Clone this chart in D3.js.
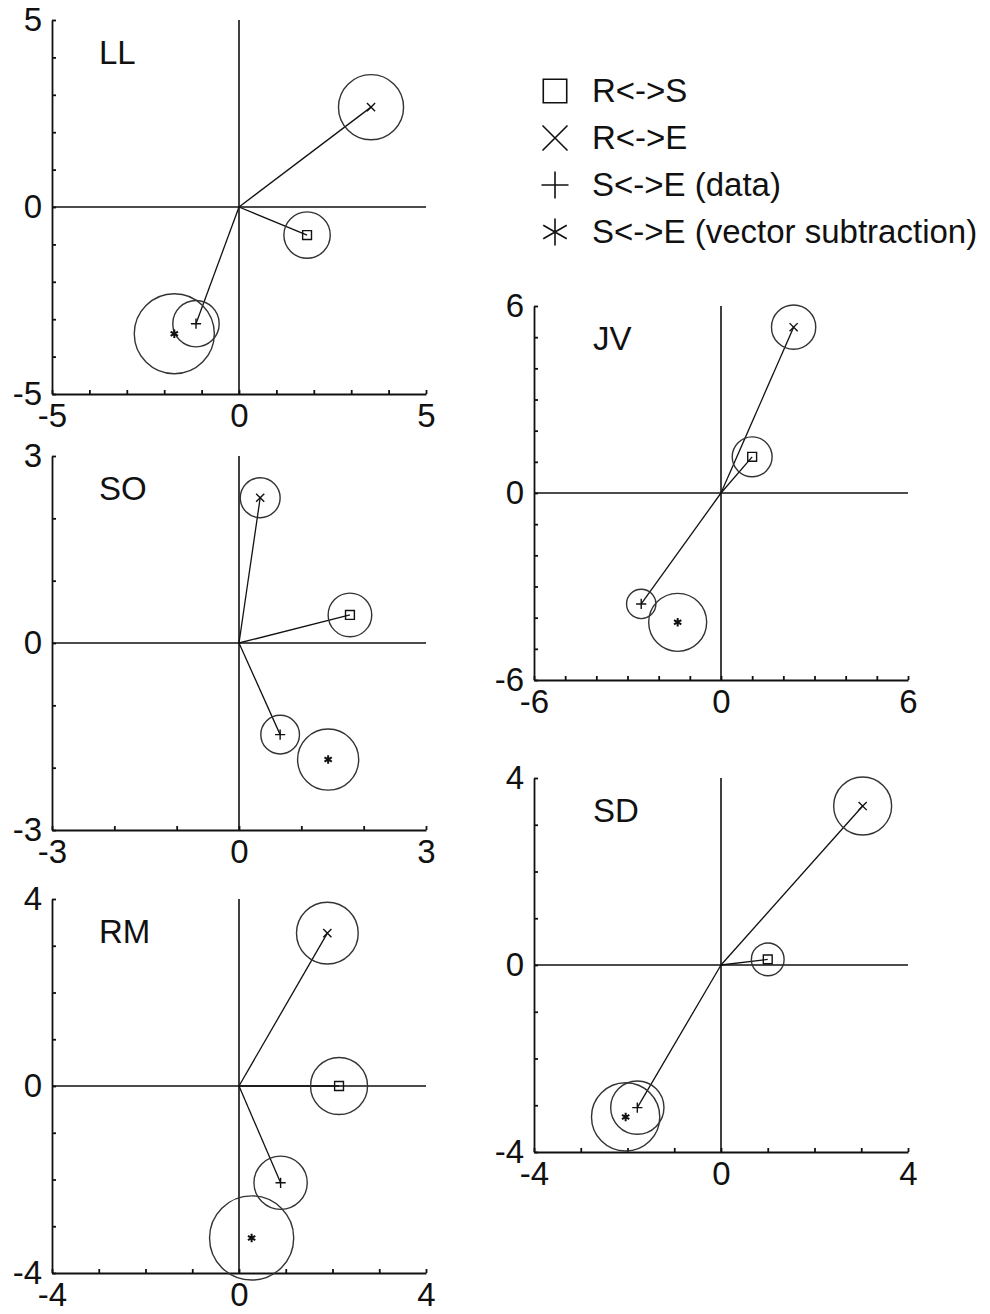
<!DOCTYPE html>
<meta charset="utf-8">
<style>
body { margin: 0; background: #fff; }
text { font-family: Arial, "Liberation Sans", sans-serif; fill: #111; }
.axis path, .axis line { stroke: #111; stroke-width: 1.8; fill: none; }
.axis text { font-size: 33px; }
</style>
<script src="https://d3js.org/d3.v7.min.js"></script>
<body>
<div id="chart"></div>
<script>
// panel names and the half-range of each square plot
var panels = ["LL", "JV", "SO", "SD", "RM"];
var limits = [5, 6, 3, 4, 4];

// R<->S (square)
var rsX = [1.82, 1.00, 1.78, 1.00, 2.14];
var rsY = [-0.75, 1.16, 0.45, 0.12, 0.00];
var rsR = [0.62, 0.64, 0.35, 0.35, 0.61];
// R<->E (x)
var reX = [3.53, 2.33, 0.34, 3.03, 1.89];
var reY = [2.67, 5.32, 2.33, 3.40, 3.27];
var reR = [0.87, 0.71, 0.32, 0.62, 0.66];
// S<->E data (+)
var seX = [-1.15, -2.56, 0.66, -1.79, 0.89];
var seY = [-3.12, -3.56, -1.47, -3.05, -2.07];
var seR = [0.62, 0.47, 0.31, 0.57, 0.57];
// S<->E vector subtraction (*)
var vsX = [-1.73, -1.39, 1.43, -2.04, 0.27];
var vsY = [-3.39, -4.15, -1.87, -3.25, -3.25];
var vsR = [1.07, 0.93, 0.49, 0.73, 0.90];

var legendLabels = ["R<->S", "R<->E", "S<->E (data)", "S<->E (vector subtraction)"];

// where each panel sits on the page
var boxes = [
  {left: 52,  top: 20,  label: 47},
  {left: 534, top: 306, label: 59},
  {left: 52,  top: 456, label: 47},
  {left: 534, top: 778, label: 59},
  {left: 52,  top: 899, label: 47}
];
var size = 374;

var symbols = [d3.symbolSquare2, d3.symbolX, d3.symbolPlus, d3.symbolAsterisk];
var markSizes = [100, 45, 36, 50];
var legendSizes = [700, 410, 240, 520];

var svg = d3.select("#chart").append("svg")
  .attr("width", 990)
  .attr("height", 1314);

panels.forEach(function(name, i) {
  var L = limits[i], b = boxes[i];
  var x = d3.scaleLinear().domain([-L, L]).range([b.left, b.left + size]);
  var y = d3.scaleLinear().domain([-L, L]).range([b.top + size, b.top]);
  var g = svg.append("g");
  var fmt = function(d) { return (d === -L || d === 0 || d === L) ? String(d) : ""; };

  g.append("g").attr("class", "axis")
    .attr("transform", "translate(" + b.left + ",0)")
    .call(d3.axisLeft(y).tickValues(d3.range(-L, L + 1)).tickSizeInner(-4).tickSizeOuter(0)
      .tickPadding(10).tickFormat(fmt));

  g.append("g").attr("class", "axis")
    .attr("transform", "translate(0," + (b.top + size) + ")")
    .call(d3.axisBottom(x).tickValues(d3.range(-L, L + 1)).tickSizeInner(-4).tickSizeOuter(0)
      .tickPadding(10).tickFormat(fmt));

  // zero lines
  g.append("line")
    .attr("x1", x(0)).attr("x2", x(0)).attr("y1", y(L)).attr("y2", y(-L))
    .attr("stroke", "#111").attr("stroke-width", 1.6);
  g.append("line")
    .attr("x1", x(-L)).attr("x2", x(L)).attr("y1", y(0)).attr("y2", y(0))
    .attr("stroke", "#111").attr("stroke-width", 1.6);

  g.append("text")
    .attr("x", b.left + b.label).attr("y", b.top + 44)
    .style("font-size", "33px")
    .text(name);

  var pts = [
    {x: rsX[i], y: rsY[i], r: rsR[i], s: 0, line: true},
    {x: reX[i], y: reY[i], r: reR[i], s: 1, line: true},
    {x: seX[i], y: seY[i], r: seR[i], s: 2, line: true},
    {x: vsX[i], y: vsY[i], r: vsR[i], s: 3, line: false}
  ];

  // vectors from the origin
  g.selectAll("line.vec")
    .data(pts.filter(function(d) { return d.line; }))
    .enter().append("line")
    .attr("class", "vec")
    .attr("x1", x(0)).attr("y1", y(0))
    .attr("x2", function(d) { return x(d.x); })
    .attr("y2", function(d) { return y(d.y); })
    .attr("stroke", "#111").attr("stroke-width", 1.3);

  // confidence circles
  g.selectAll("circle")
    .data(pts)
    .enter().append("circle")
    .attr("cx", function(d) { return x(d.x); })
    .attr("cy", function(d) { return y(d.y); })
    .attr("r", function(d) { return x(d.r) - x(0); })
    .attr("fill", "none").attr("stroke", "#333").attr("stroke-width", 1.4);

  g.selectAll("path.mark")
    .data(pts)
    .enter().append("path")
    .attr("class", "mark")
    .attr("transform", function(d) { return "translate(" + x(d.x) + "," + y(d.y) + ")"; })
    .attr("d", function(d) { return d3.symbol(symbols[d.s], markSizes[d.s])(); })
    .attr("fill", "none").attr("stroke", "#111")
    .attr("stroke-width", function(d) { return d.s === 3 ? 2 : 1.4; });
});

// legend
var leg = svg.append("g").attr("transform", "translate(555,91)");
legendLabels.forEach(function(t, i) {
  leg.append("path")
    .attr("transform", "translate(0," + (i * 47) + ")")
    .attr("d", d3.symbol(symbols[i], legendSizes[i])())
    .attr("fill", "none").attr("stroke", "#111").attr("stroke-width", 1.6);
  leg.append("text")
    .attr("x", 37).attr("y", i * 47 + 11)
    .style("font-size", "33px")
    .text(t);
});
</script>
</body>
